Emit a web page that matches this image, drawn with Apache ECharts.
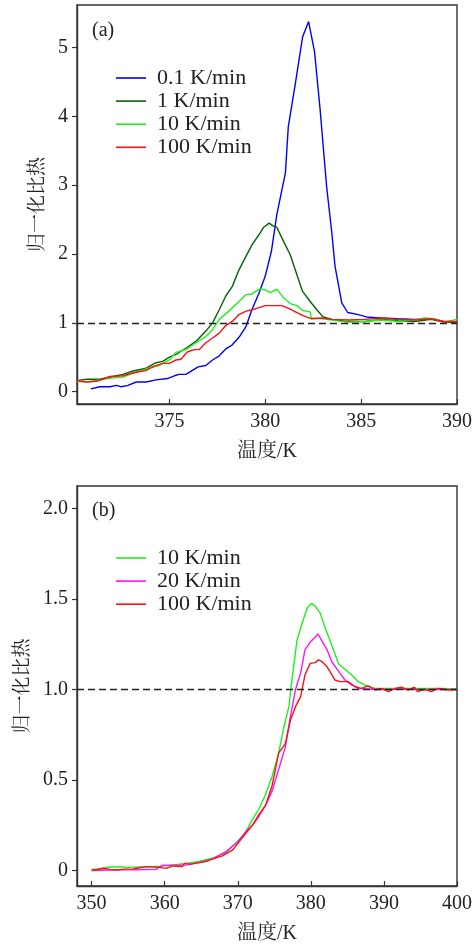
<!DOCTYPE html>
<html>
<head>
<meta charset="utf-8">
<script src="https://cdn.jsdelivr.net/npm/echarts@6/dist/echarts.min.js"></script>
<style>html,body{margin:0;padding:0;background:#fff}#c{width:475px;height:946px}</style>
</head>
<body>
<div id="c"></div>
<script>
// ---------- Panel (a) data ----------
const a01T = [370.9,371.37,371.9,372.24,372.5,372.84,373.27,373.79,374.3,374.9,375.26,375.5,375.86,376.2,376.5,376.9,377.25,377.6,377.94,378.28,378.63,379.0,379.3,379.67,380.0,380.32,380.6,381.05,381.2,381.57,381.95,382.26,382.57,382.86,383.2,383.47,383.64,383.99,384.3,384.85,385.37,386.06,386.9,387.8,388.65,389.3,390.0];
const a01Y = [0.04,0.07,0.07,0.09,0.07,0.09,0.14,0.14,0.17,0.19,0.23,0.25,0.25,0.31,0.36,0.38,0.46,0.52,0.62,0.68,0.79,0.95,1.19,1.43,1.68,2.04,2.57,3.18,3.85,4.48,5.16,5.38,4.94,4.10,2.98,2.31,1.82,1.29,1.15,1.12,1.08,1.07,1.06,1.05,1.06,1.02,1.01];

const a1T = [370.16,370.68,371.37,372.06,372.58,373.1,373.79,374.3,374.65,375.0,375.35,375.86,376.38,376.9,377.25,377.6,377.94,378.28,378.63,379.0,379.32,379.67,379.92,380.2,380.4,380.6,380.96,381.3,381.65,381.94,382.34,382.69,383.0,383.47,384.16,385.2,386.06,386.9,387.8,388.65,389.3,390.0];
const a1Y = [0.16,0.18,0.18,0.22,0.25,0.30,0.34,0.42,0.44,0.50,0.54,0.63,0.73,0.88,1.00,1.19,1.39,1.53,1.77,1.97,2.14,2.28,2.39,2.45,2.41,2.39,2.18,1.99,1.70,1.46,1.31,1.19,1.09,1.05,1.02,1.02,1.05,1.03,1.02,1.05,1.01,1.01];

const a10T = [370.16,370.68,371.37,372.06,372.58,373.1,373.79,374.48,375.0,375.35,375.86,376.38,376.9,377.25,377.6,378.1,378.63,379.0,379.32,379.67,380.0,380.27,380.6,380.96,381.3,381.65,381.94,382.34,382.4,383.0,383.47,384.33,385.2,386.06,386.9,387.8,388.3,388.8,389.3,390.0];
const a10Y = [0.15,0.14,0.17,0.20,0.21,0.27,0.33,0.38,0.46,0.57,0.61,0.71,0.80,0.90,1.05,1.17,1.31,1.41,1.42,1.49,1.48,1.44,1.49,1.36,1.28,1.25,1.18,1.16,1.07,1.06,1.04,1.01,1.02,1.04,1.02,1.04,1.07,1.06,1.01,1.05];

const a100T = [370.16,370.68,371.2,371.9,372.58,373.1,373.79,374.2,374.65,375.0,375.35,375.6,375.95,376.3,376.55,376.9,377.25,377.6,377.94,378.28,378.63,379.0,379.32,379.67,380.0,380.87,381.3,381.65,382.0,382.4,383.0,383.47,384.33,385.2,386.06,386.9,387.8,388.65,389.3,390.0];
const a100Y = [0.16,0.14,0.15,0.22,0.23,0.27,0.31,0.37,0.41,0.41,0.46,0.47,0.58,0.61,0.61,0.71,0.78,0.85,0.96,1.02,1.12,1.17,1.19,1.22,1.25,1.25,1.20,1.15,1.10,1.06,1.07,1.05,1.04,1.05,1.07,1.05,1.04,1.06,1.02,1.02];

// ---------- Panel (b) data ----------
const b10T = [350.0,351.2,352.5,354.0,354.8,355.0,356.6,358.5,360.2,361.5,362.9,364.7,366.5,368.4,369.7,371.1,372.0,372.9,373.8,374.7,375.6,376.3,377.0,377.4,378.1,378.8,379.5,380.05,380.6,381.3,381.96,382.9,383.8,384.7,385.6,386.5,387.4,388.8,391.9,394.0,396.5,398.0,400.0];
const b10Y = [0.007,0.01,0.02,0.02,0.018,0.008,0.02,0.022,0.026,0.032,0.04,0.05,0.068,0.10,0.15,0.215,0.28,0.34,0.42,0.52,0.65,0.79,0.905,1.05,1.27,1.365,1.45,1.475,1.46,1.42,1.34,1.24,1.14,1.11,1.08,1.043,1.025,1.006,1.006,1.006,1.006,1.006,1.003];

const b20T = [350.0,352.0,354.0,356.0,358.8,359.7,361.0,362.9,364.7,366.5,368.4,370.2,371.1,372.0,372.9,373.8,374.7,375.6,376.5,377.2,377.9,378.6,379.2,379.9,380.6,380.96,381.5,382.2,382.9,383.8,384.7,385.6,386.5,388.8,391.0,393.0,395.0,397.0,400.0];
const b20Y = [0.0,0.003,0.004,0.005,0.007,0.03,0.03,0.03,0.044,0.063,0.105,0.166,0.215,0.25,0.30,0.36,0.44,0.56,0.68,0.85,1.0,1.09,1.22,1.26,1.29,1.306,1.27,1.22,1.15,1.10,1.05,1.025,1.006,1.0,1.0,1.002,0.998,1.0,1.0];

const b100T = [350.0,350.8,351.6,352.5,353.5,354.5,355.7,356.5,357.5,358.5,359.3,360.2,361.1,361.8,362.4,362.7,363.5,364.7,365.6,366.5,367.9,369.3,370.2,371.1,372.0,372.9,373.8,374.7,375.6,376.5,377.2,377.9,378.6,379.2,379.9,380.6,381.05,381.5,382.2,382.6,383.3,384.0,385.1,386.0,386.9,387.8,388.8,389.7,390.6,391.5,392.4,393.3,394.2,394.6,395.6,396.5,397.4,398.8,400.0];
const b100Y = [0.004,0.006,0.013,0.007,0.003,0.008,0.009,0.016,0.022,0.02,0.018,0.012,0.026,0.024,0.022,0.04,0.036,0.044,0.05,0.063,0.081,0.114,0.16,0.206,0.25,0.31,0.36,0.47,0.65,0.70,0.83,0.905,0.96,1.08,1.144,1.148,1.163,1.154,1.126,1.10,1.052,1.043,1.043,1.016,1.006,1.02,0.997,1.006,0.988,1.006,1.012,0.997,1.012,0.988,1.0,0.988,1.006,0.997,1.0];

// ---------- axes ----------
const aXTicks = [375, 380, 385, 390];
const aYTicks = [0, 1, 2, 3, 4, 5];
const bXTicks = [350, 360, 370, 380, 390, 400];
const bYTicks = [0, 0.5, 1.0, 1.5, 2.0];
const refLevel = 1;

const namesA = ['0.1 K/min', '1 K/min', '10 K/min', '100 K/min'];
const namesB = ['10 K/min', '20 K/min', '100 K/min'];
const xName = '温度/K';
const yName = '归一化比热';

const zip = (t, y) => t.map((v, i) => [v, y[i]]);

const SERIF = "'Liberation Serif','Noto Serif CJK SC','Noto Sans CJK SC',serif";
const TXT = '#222';
const AX = '#333';

function xAxis(gi, min, max, ticks, gap) {
  return {
    type: 'value', gridIndex: gi, min: min, max: max,
    name: xName, nameLocation: 'middle', nameGap: gap,
    nameTextStyle: { fontFamily: SERIF, fontSize: 20, color: TXT },
    axisLine: { show: true, onZero: false, lineStyle: { color: AX, width: 1.4 } },
    axisTick: { show: true, inside: true, length: 5, customValues: ticks, lineStyle: { color: AX, width: 1.2 } },
    axisLabel: { customValues: ticks, fontFamily: SERIF, fontSize: 20, color: TXT, margin: 8 },
    splitLine: { show: false }
  };
}
function yAxis(gi, min, max, ticks, gap, fmt) {
  return {
    type: 'value', gridIndex: gi, min: min, max: max,
    name: yName, nameLocation: 'middle', nameGap: gap, nameRotate: 90,
    nameTextStyle: { fontFamily: SERIF, fontSize: 19, color: TXT },
    axisLine: { show: true, onZero: false, lineStyle: { color: AX, width: 1.4 } },
    axisTick: { show: true, inside: false, length: 5, customValues: ticks, lineStyle: { color: AX, width: 1.2 } },
    axisLabel: { customValues: ticks, fontFamily: SERIF, fontSize: 20, color: TXT, margin: 9, formatter: fmt },
    splitLine: { show: false }
  };
}
function line(name, data, color, xi, withRef) {
  const s = {
    type: 'line', name: name, xAxisIndex: xi, yAxisIndex: xi, data: data,
    symbol: 'none', smooth: false, color: color,
    lineStyle: { color: color, width: 1.4 }, z: 3, animation: false
  };
  if (withRef) {
    s.markLine = {
      silent: true, symbol: 'none', animation: false,
      label: { show: false },
      lineStyle: { color: '#222', type: [7, 4], width: 1.4 },
      data: [{ yAxis: refLevel }]
    };
  }
  return s;
}

const legendCommon = {
  orient: 'vertical', left: 111, icon: 'rect', itemWidth: 30, itemHeight: 1.6,
  itemGap: 1.1,
  textStyle: { fontFamily: SERIF, fontSize: 22, color: TXT, padding: [0, 0, 0, 6] }
};

const chart = echarts.init(document.getElementById('c'), null, { renderer: 'canvas' });
chart.setOption({
  animation: false,
  backgroundColor: '#fff',
  title: [
    { text: '(a)', left: 87, top: 16, textStyle: { fontFamily: SERIF, fontSize: 20, fontWeight: 'normal', color: TXT } },
    { text: '(b)', left: 87, top: 496, textStyle: { fontFamily: SERIF, fontSize: 20, fontWeight: 'normal', color: TXT } }
  ],
  grid: [
    { left: 77, right: 15, top: 5, height: 399, show: true, borderColor: AX, borderWidth: 1.4, backgroundColor: 'transparent' },
    { left: 77, right: 15, top: 486, height: 400, show: true, borderColor: AX, borderWidth: 1.4, backgroundColor: 'transparent' }
  ],
  xAxis: [
    xAxis(0, 370.18, 390, aXTicks, 38),
    xAxis(1, 348, 400, bXTicks, 38)
  ],
  yAxis: [
    yAxis(0, -0.18, 5.62, aYTicks, 28, v => String(v)),
    yAxis(1, -0.085, 2.123, bYTicks, 44, v => (v === 0 ? '0' : v.toFixed(1)))
  ],
  legend: [
    Object.assign({}, legendCommon, { top: 62, data: namesA.map(n => ({ name: n })) }),
    Object.assign({}, legendCommon, { top: 542, data: namesB.map(n => ({ name: n })) })
  ],
  series: [
    line(namesA[0], zip(a01T, a01Y), '#0000ff', 0, true),
    line(namesA[1], zip(a1T, a1Y), '#046404', 0, false),
    line(namesA[2], zip(a10T, a10Y), '#1ef01e', 0, false),
    line(namesA[3], zip(a100T, a100Y), '#ff1010', 0, false),
    line(namesB[0], zip(b10T, b10Y), '#1ef01e', 1, true),
    line(namesB[1], zip(b20T, b20Y), '#ff10ff', 1, false),
    line(namesB[2], zip(b100T, b100Y), '#ff1010', 1, false)
  ]
});
</script>
</body>
</html>
